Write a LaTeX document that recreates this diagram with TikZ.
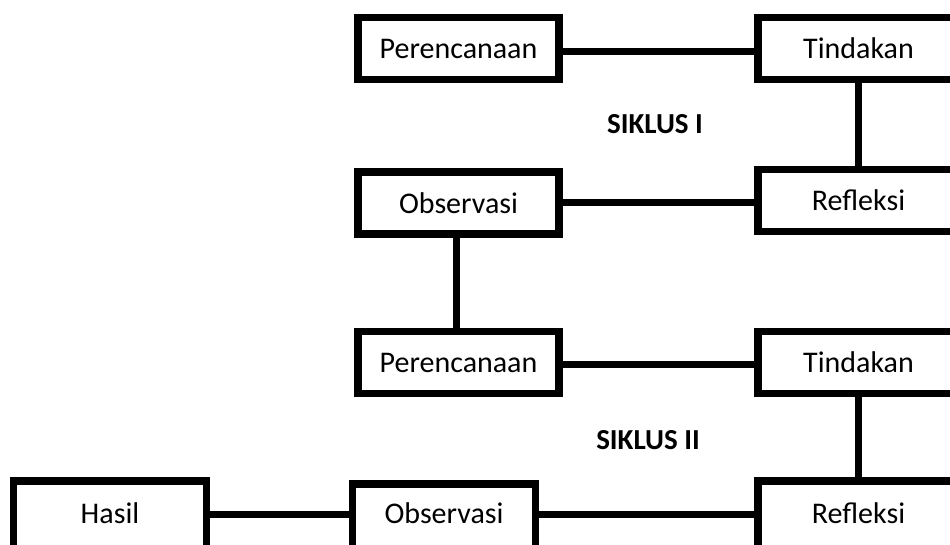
\documentclass[tikz,border=0pt]{standalone}
\usepackage{fontspec}
\setmainfont{Carlito}
\begin{document}
\begin{tikzpicture}[x=1pt,y=-1pt,
  box/.style={draw=black, line width=7.5pt, minimum width=201pt, minimum height=62pt,
    inner sep=0pt, font=\fontsize{30}{36}\selectfont},
  lowbox/.style={draw=black, line width=7.5pt, inner sep=0pt, text height=42pt, text depth=38pt,
    anchor=base, font=\fontsize{30}{36}\selectfont},
  conn/.style={line width=7pt, black},
  cyc/.style={font=\fontsize{29}{35}\selectfont\bfseries}]
\useasboundingbox (0,0) rectangle (950,545);
\clip (0,0) rectangle (950,545);
\node[box] (p1) at (458.5,48.5) {Perencanaan};
\node[box] (t1) at (858.5,48.5) {Tindakan};
\node[box] (o1) at (458.5,203) {Observasi};
\node[box] (r1) at (858.5,200.5) {Refleksi};
\node[box] (p2) at (458.5,362.5) {Perencanaan};
\node[box] (t2) at (858.5,362.5) {Tindakan};
\node[lowbox, minimum width=193pt] (h) at (110,523) {Hasil};
\node[lowbox, minimum width=183pt, text height=39pt, text depth=41pt] (o2) at (444,523) {Observasi};
\node[lowbox, minimum width=201pt] (r2) at (858.5,523) {Refleksi};
\node[cyc] (s1) at (655,124) {SIKLUS I};
\node[cyc] (s2) at (648,440) {SIKLUS II};
\draw[conn] ([yshift=-3pt]p1.east) -- ([yshift=-3pt]t1.west);
\draw[conn] (t1.south) -- (r1.north);
\draw[conn] (o1.east) -- (o1.east -| r1.west);
\draw[conn] ([xshift=-2pt]o1.south) -- ([xshift=-2pt]p2.north);
\draw[conn] ([yshift=-1.5pt]p2.east) -- ([yshift=-1.5pt]t2.west);
\draw[conn] (t2.south) -- (r2.north);
\draw[conn] ([yshift=7pt]h.east) -- ([yshift=7pt]h.east -| o2.west);
\draw[conn] ([yshift=7pt]h.east -| o2.east) -- ([yshift=7pt]h.east -| r2.west);
\end{tikzpicture}
\end{document}
